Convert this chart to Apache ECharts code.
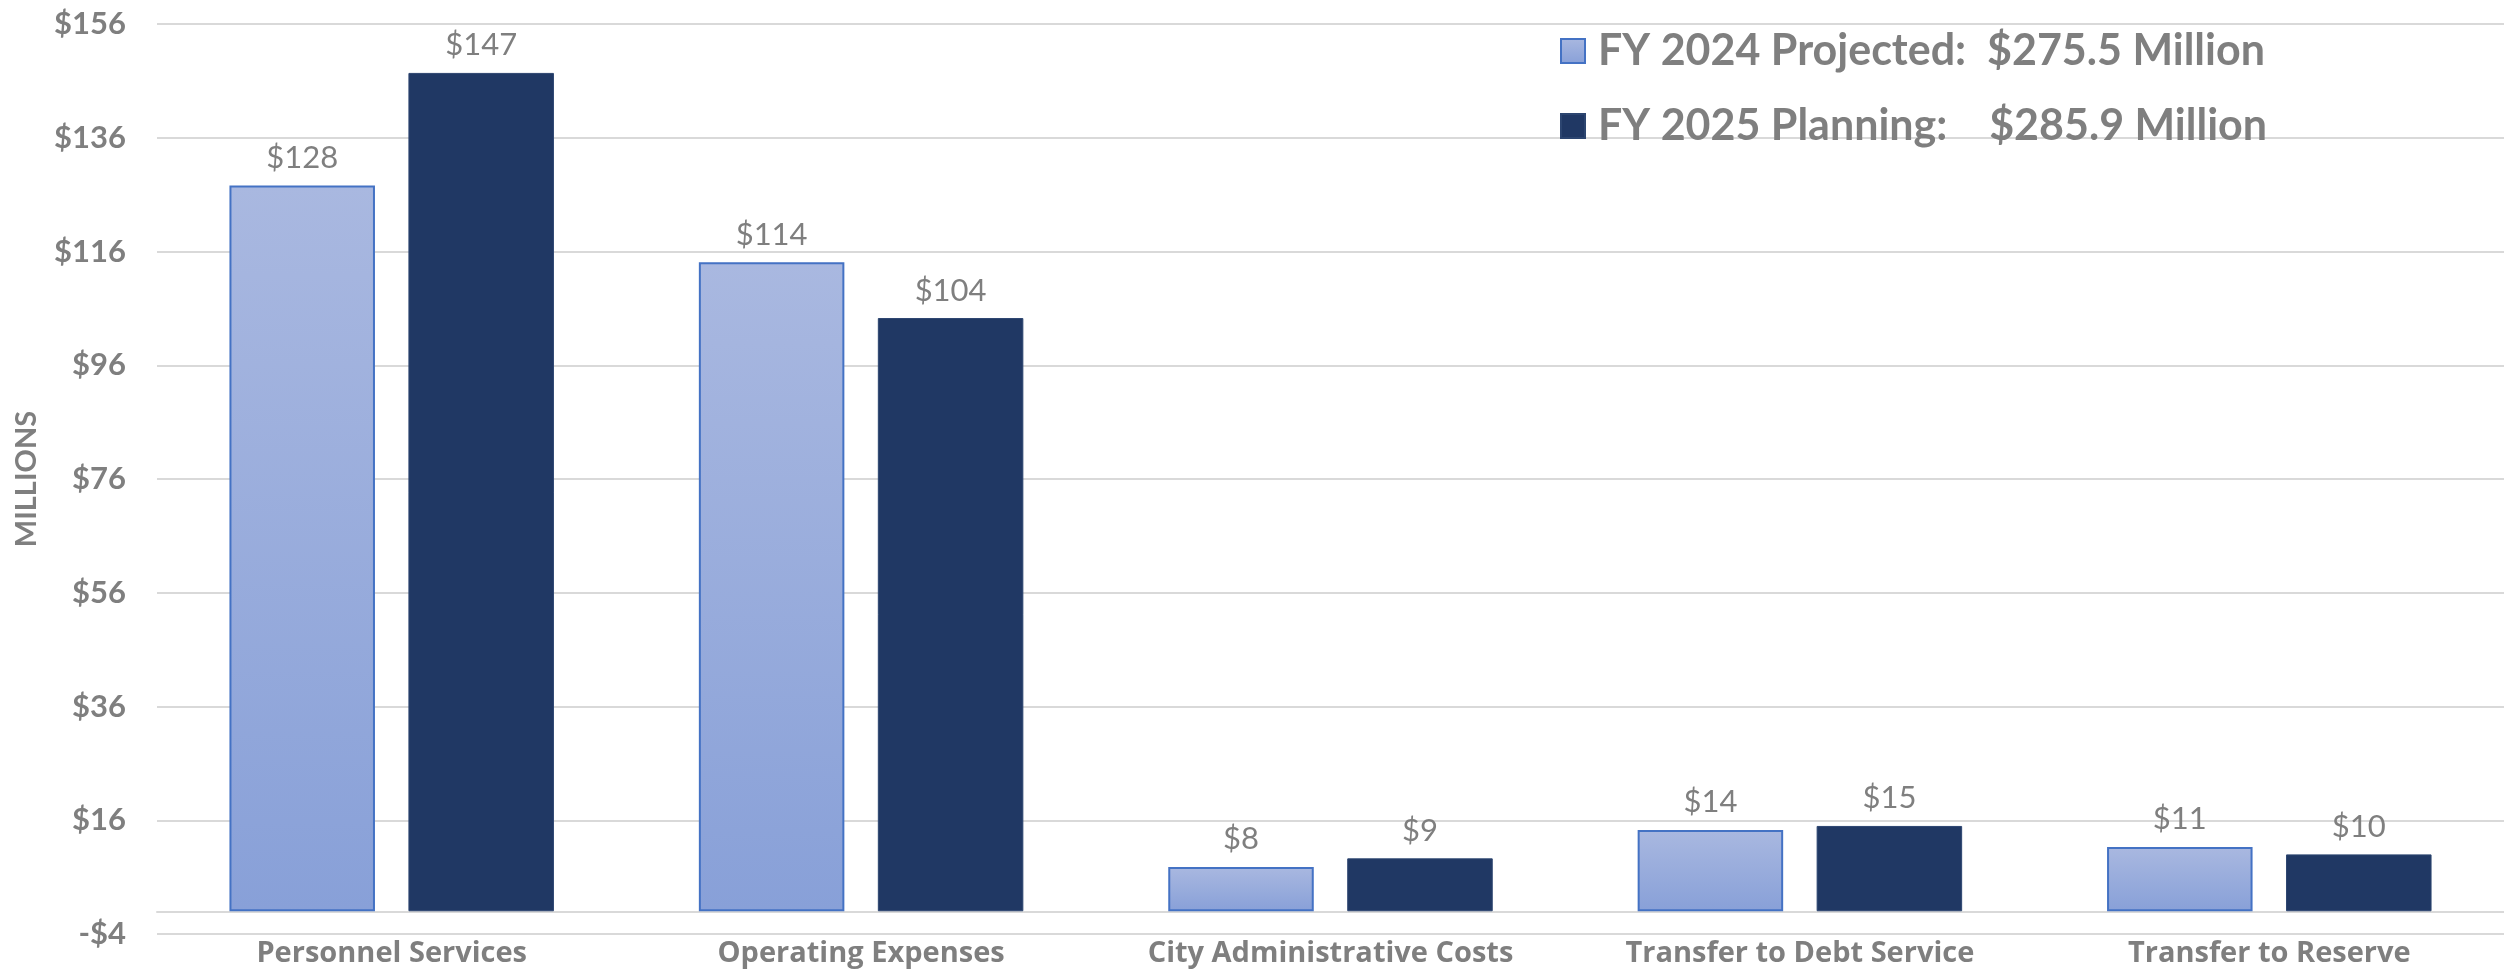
<!DOCTYPE html>
<html>
<head>
<meta charset="utf-8">
<style>
  html, body { margin: 0; padding: 0; background: #fff; }
  #chart { width: 2504px; height: 973px; }
</style>
<script src="https://cdn.jsdelivr.net/npm/echarts@6/dist/echarts.min.js"></script>
</head>
<body>
<div id="chart"></div>
<script>
// categories and values (millions)
const categories = ['Personnel Services', 'Operating Expenses', 'City Administrative Costs', 'Transfer to Debt Service', 'Transfer to Reserve'];
const fy2024 = [127.6, 114.1, 7.8, 14.3, 11.3];
const fy2025 = [147.4, 104.3, 9.3, 15.0, 10.0];
const seriesNames = ['FY 2024 Projected:  $275.5 Million', 'FY 2025 Planning:    $285.9 Million'];
const yTicks = [-4, 16, 36, 56, 76, 96, 116, 136, 156];

const gray = '#7f7f7f';
const font = 'Lato, "Open Sans", sans-serif';

const chart = echarts.init(document.getElementById('chart'));

// money label, rounded to whole millions
function money(v) {
  const r = Math.round(v);
  return (r < 0 ? '-$' : '$') + Math.abs(r);
}

const option = {
  animation: false,
  backgroundColor: '#fff',
  grid: { left: 157, right: 0, top: 24, bottom: 39, containLabel: false, outerBoundsMode: 'none' },
  legend: {
    orient: 'vertical',
    left: 1555,
    top: 24,
    itemWidth: 24,
    itemHeight: 24,
    itemGap: 31,
    icon: 'rect',
    selectedMode: false,
    textStyle: {
      color: gray,
      fontFamily: font,
      fontWeight: 'bold',
      fontSize: 43,
      lineHeight: 44,
      padding: [0, 0, 0, 8]
    },
    data: seriesNames
  },
  xAxis: {
    type: 'category',
    data: categories,
    axisLine: { show: true, onZero: true, lineStyle: { color: '#d9d9d9', width: 2 } },
    axisTick: { show: false },
    axisLabel: {
      interval: 0,
      hideOverlap: false,
      color: gray,
      fontFamily: '"Open Sans", Lato, sans-serif',
      fontWeight: 'bold',
      fontSize: 29,
      margin: 5
    },
    splitLine: { show: false }
  },
  yAxis: {
    type: 'value',
    min: -4,
    max: 156,
    name: 'MILLIONS',
    nameLocation: 'middle',
    nameGap: 116,
    nameRotate: 90,
    nameTextStyle: { color: gray, fontFamily: font, fontWeight: 'bold', fontSize: 29 },
    axisLine: { show: false },
    axisTick: { show: false, customValues: yTicks },
    axisLabel: {
      customValues: yTicks,
      color: gray,
      fontFamily: font,
      fontWeight: 'bold',
      fontSize: 31,
      margin: 31,
      formatter: money
    },
    splitLine: { show: true, lineStyle: { color: '#d9d9d9', width: 2 } }
  },
  series: [
    {
      name: seriesNames[0],
      type: 'bar',
      data: fy2024,
      barWidth: '31%',
      barGap: '23%',
      itemStyle: {
        color: new echarts.graphic.LinearGradient(0, 0, 0, 1, [
          { offset: 0, color: '#a9b8e0' },
          { offset: 1, color: '#88a0d8' }
        ]),
        borderColor: '#4472c4',
        borderWidth: 2
      },
      label: {
        show: true,
        position: 'top',
        distance: 12,
        color: gray,
        fontFamily: font,
        fontSize: 31,
        formatter: p => money(p.value)
      }
    },
    {
      name: seriesNames[1],
      type: 'bar',
      data: fy2025,
      barWidth: '31%',
      itemStyle: {
        color: '#203864',
        borderColor: '#2c4570',
        borderWidth: 1
      },
      label: {
        show: true,
        position: 'top',
        distance: 12,
        color: gray,
        fontFamily: font,
        fontSize: 31,
        formatter: p => money(p.value)
      }
    }
  ]
};

chart.setOption(option);
</script>
</body>
</html>
